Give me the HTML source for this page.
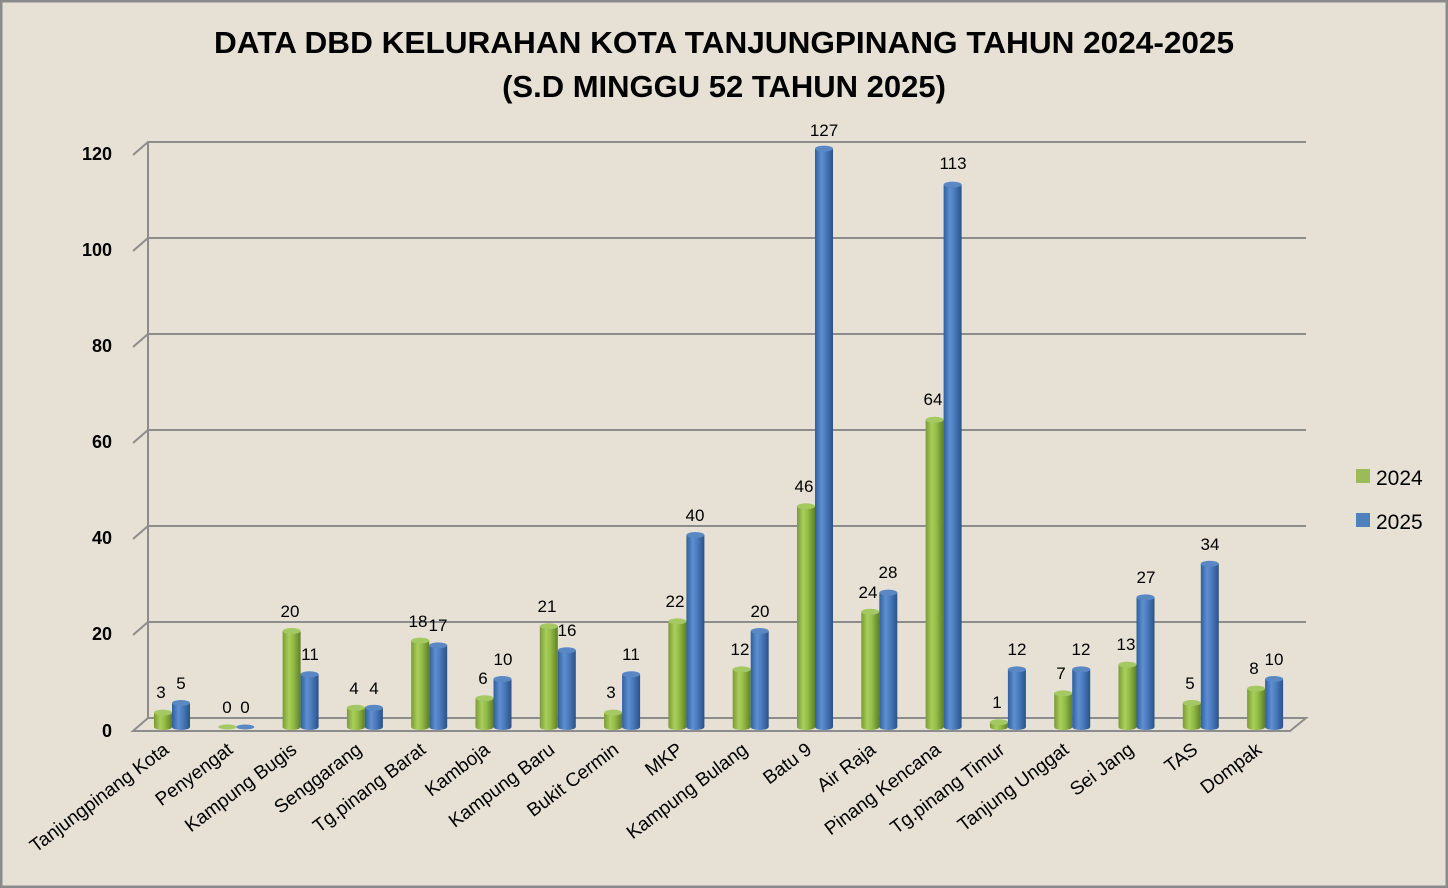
<!DOCTYPE html>
<html><head><meta charset="utf-8"><style>
html,body{margin:0;padding:0;background:#e7e1d5;}
svg{display:block;font-family:"Liberation Sans",Calibri,sans-serif;}
</style></head><body>
<svg id="s" width="1448" height="888" viewBox="0 0 1448 888" xmlns="http://www.w3.org/2000/svg">
<defs>
<linearGradient id="gg" x1="0" x2="1" y1="0" y2="0"><stop offset="0" stop-color="#7a9a36"/><stop offset="0.35" stop-color="#a9cf5a"/><stop offset="0.6" stop-color="#93bb47"/><stop offset="1" stop-color="#5f7f26"/></linearGradient>
<linearGradient id="bg" x1="0" x2="1" y1="0" y2="0"><stop offset="0" stop-color="#2f5f9c"/><stop offset="0.35" stop-color="#5f8fd0"/><stop offset="0.6" stop-color="#4a7bbd"/><stop offset="1" stop-color="#2a5288"/></linearGradient>
</defs>
<rect x="1" y="1" width="1446" height="886" fill="#e7e1d5" stroke="#8a8a8a" stroke-width="3"/>
<text x="724" y="53" text-anchor="middle" font-size="31" font-weight="bold" fill="#000" textLength="1020" lengthAdjust="spacingAndGlyphs">DATA DBD KELURAHAN KOTA TANJUNGPINANG TAHUN 2024-2025</text>
<text x="724" y="97" text-anchor="middle" font-size="31" font-weight="bold" fill="#000">(S.D MINGGU 52 TAHUN 2025)</text>
<g stroke="#8c8c8c" stroke-width="2" fill="none">
<path d="M133 155 L148 142 L1306 142"/>
<path d="M133 251 L148 238 L1306 238"/>
<path d="M133 347 L148 334 L1306 334"/>
<path d="M133 443 L148 430 L1306 430"/>
<path d="M133 539 L148 526 L1306 526"/>
<path d="M133 635 L148 622 L1306 622"/>
<path d="M133 731 L148 718 L1306 718 L1290 731 Z"/>
<path d="M148 142 L148 718"/>
</g>
<g font-size="18" font-weight="bold" text-anchor="end" fill="#000">
<text x="112" y="160">120</text><text x="112" y="256">100</text><text x="112" y="352">80</text>
<text x="112" y="448">60</text><text x="112" y="544">40</text><text x="112" y="640">20</text><text x="112" y="737">0</text>
</g>
<g id="bars"></g>
<g font-size="17" text-anchor="middle" fill="#000">
<text x="161" y="698">3</text><text x="227" y="713">0</text><text x="290" y="617">20</text><text x="354" y="694">4</text>
<text x="418" y="627">18</text><text x="483" y="684">6</text><text x="547" y="612">21</text><text x="611" y="698">3</text>
<text x="675" y="607">22</text><text x="740" y="655">12</text><text x="804" y="492">46</text><text x="868" y="598">24</text>
<text x="933" y="405">64</text><text x="997" y="708">1</text><text x="1061" y="679">7</text><text x="1126" y="650">13</text>
<text x="1190" y="689">5</text><text x="1254" y="674">8</text>
<text x="181" y="689">5</text><text x="245" y="713">0</text><text x="310" y="660">11</text><text x="374" y="694">4</text>
<text x="438" y="631">17</text><text x="503" y="665">10</text><text x="567" y="636">16</text><text x="631" y="660">11</text>
<text x="695" y="521">40</text><text x="760" y="617">20</text><text x="824" y="136">127</text><text x="888" y="578">28</text>
<text x="953" y="169">113</text><text x="1017" y="655">12</text><text x="1081" y="655">12</text><text x="1146" y="583">27</text>
<text x="1210" y="550">34</text><text x="1274" y="665">10</text>
</g>
<g font-size="19" text-anchor="end" fill="#000">
<text transform="translate(170,752) rotate(-37)">Tanjungpinang Kota</text>
<text transform="translate(234,752) rotate(-37)">Penyengat</text>
<text transform="translate(298,752) rotate(-37)">Kampung Bugis</text>
<text transform="translate(363,752) rotate(-37)">Senggarang</text>
<text transform="translate(427,752) rotate(-37)">Tg.pinang Barat</text>
<text transform="translate(491,752) rotate(-37)">Kamboja</text>
<text transform="translate(556,752) rotate(-37)">Kampung Baru</text>
<text transform="translate(620,752) rotate(-37)">Bukit Cermin</text>
<text transform="translate(684,752) rotate(-37)">MKP</text>
<text transform="translate(749,752) rotate(-37)">Kampung Bulang</text>
<text transform="translate(813,752) rotate(-37)">Batu 9</text>
<text transform="translate(877,752) rotate(-37)">Air Raja</text>
<text transform="translate(942,752) rotate(-37)">Pinang Kencana</text>
<text transform="translate(1006,752) rotate(-37)">Tg.pinang Timur</text>
<text transform="translate(1070,752) rotate(-37)">Tanjung Unggat</text>
<text transform="translate(1135,752) rotate(-37)">Sei Jang</text>
<text transform="translate(1199,752) rotate(-37)">TAS</text>
<text transform="translate(1263,752) rotate(-37)">Dompak</text>
</g>
<rect x="1356" y="469" width="14" height="14" fill="#9bbb59"/>
<text x="1376" y="485" font-size="21" fill="#000">2024</text>
<rect x="1356" y="513" width="14" height="14" fill="#4f81bd"/>
<text x="1376" y="529" font-size="21" fill="#000">2025</text>
</svg>
<script>
var a=[3,0,20,4,18,6,21,3,22,12,46,24,64,1,7,13,5,8],b=[5,0,11,4,17,10,16,11,40,20,127,28,113,12,12,27,34,10];
var g=document.getElementById('bars'),h='';
function bar(cx,v,fill,top){var base=727,t=base-Math.min(v,120.5)*4.8,w=18,x=cx-w/2;
if(v==0){return '<ellipse cx="'+cx+'" cy="'+base+'" rx="9" ry="2.5" fill="'+top+'"/>';}
return '<rect x="'+x+'" y="'+t+'" width="'+w+'" height="'+(base-t)+'" fill="url(#'+fill+')"/>'+
'<ellipse cx="'+cx+'" cy="'+base+'" rx="9" ry="3" fill="url(#'+fill+')"/>'+
'<ellipse cx="'+cx+'" cy="'+t+'" rx="9" ry="3" fill="'+top+'"/>';}
for(var i=0;i<18;i++){var c=163+64.3*i;h+=bar(c,a[i],'gg','#a4c862')+bar(c+18,b[i],'bg','#5a88c4');}
g.innerHTML=h;
</script>
</body></html>
